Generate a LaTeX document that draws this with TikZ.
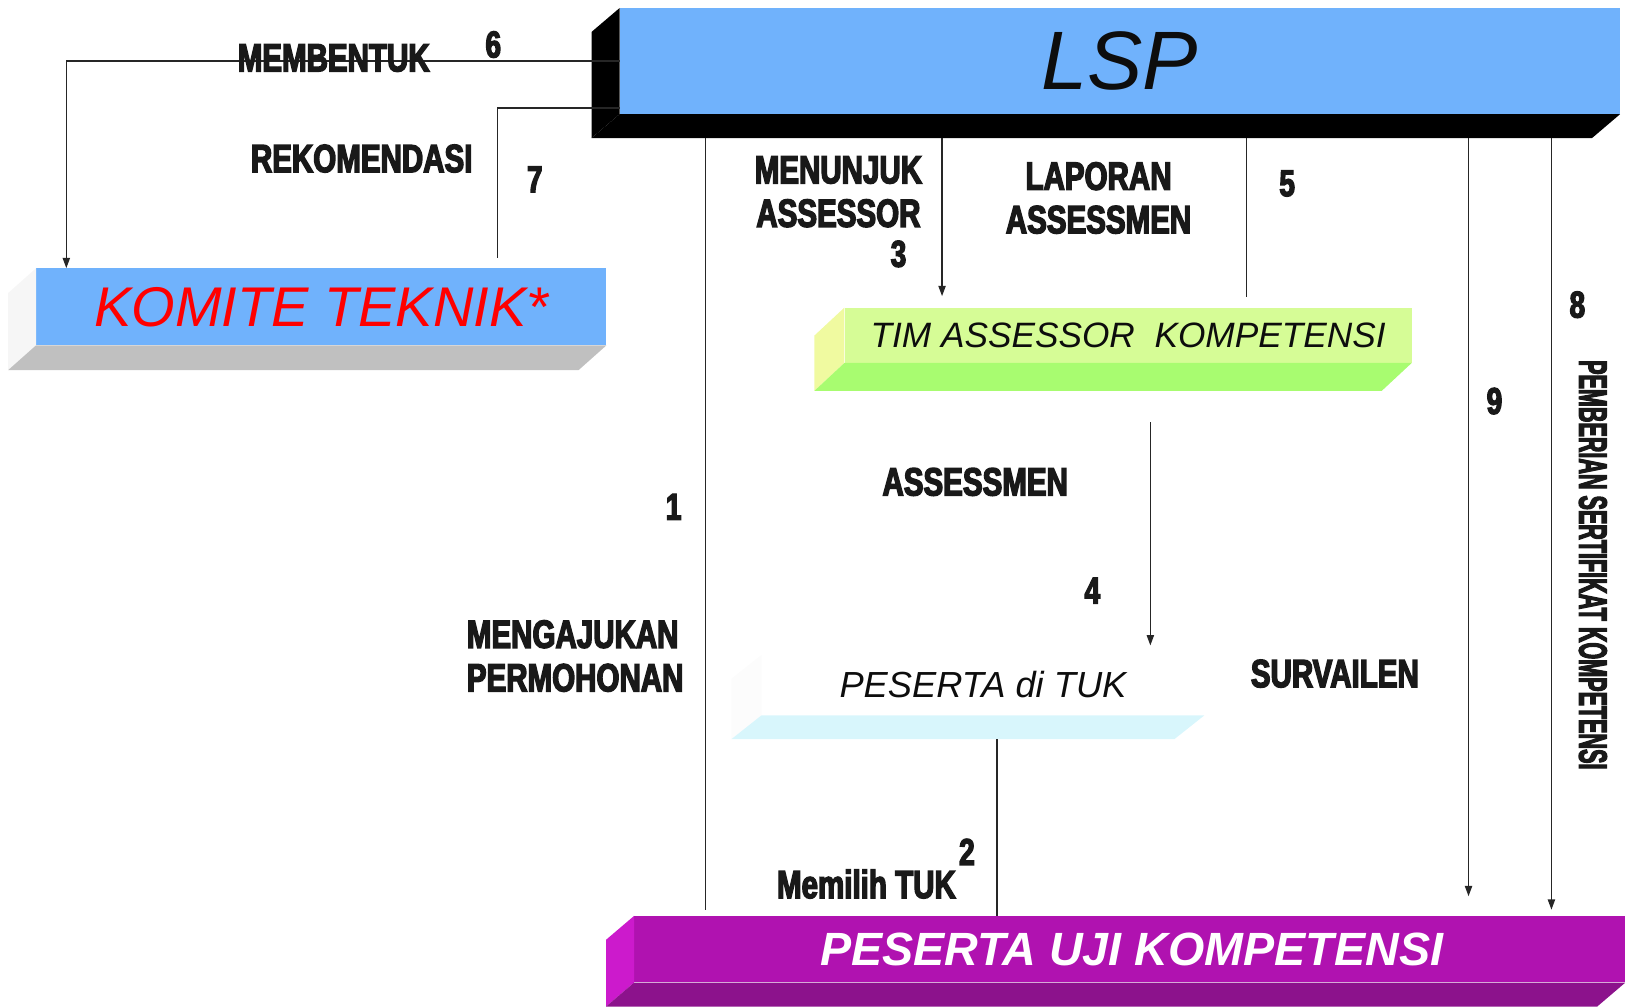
\documentclass[tikz,border=0pt]{standalone}
\usepackage{fontspec}
\usepackage{graphicx}
\setmainfont{Liberation Sans}
\newfontfamily\labfont{Liberation Sans Bold}[FakeStretch=0.75,FakeBold=3.5]
\usetikzlibrary{arrows.meta}

\definecolor{lspblue}{RGB}{112,178,252}
\definecolor{komside}{RGB}{246,246,246}
\definecolor{komdepth}{RGB}{192,192,192}
\definecolor{timface}{RGB}{214,252,150}
\definecolor{timside}{RGB}{240,250,160}
\definecolor{timdepth}{RGB}{168,252,112}
\definecolor{tukside}{RGB}{252,252,252}
\definecolor{tukdepth}{RGB}{216,246,252}
\definecolor{pesface}{RGB}{176,18,176}
\definecolor{pesside}{RGB}{204,26,204}
\definecolor{pesdepth}{RGB}{140,18,140}

\tikzset{
  face/.style={rectangle, inner sep=0pt, draw=none},
  lab/.style={font=\labfont\fontsize{38}{42}\selectfont, text=black!90, inner sep=0pt},
  num/.style={font=\labfont\fontsize{36}{40}\selectfont, text=black!90, inner sep=0pt},
  link/.style={draw=black!85, line width=1.4pt},
  arr/.style={link, -{Triangle[length=10pt,width=7pt]}}
}

\begin{document}
\begin{tikzpicture}[x=1pt,y=-1pt]
\useasboundingbox (0,0) rectangle (1568,971);

% front faces
\node[face, fill=lspblue, minimum width=965pt, minimum height=102pt, text=black!95,
  font=\itshape\fontsize{80}{82}\selectfont] (lsp) at (1080.5,59) {LSP};
\node[face, fill=lspblue, minimum width=550pt, minimum height=74pt, text=red,
  font=\itshape\fontsize{54}{56}\selectfont] (komite) at (310,296) {KOMITE TEKNIK*};
\node[face, fill=timface, minimum width=547pt, minimum height=53pt, text=black!95,
  font=\itshape\fontsize{34}{36}\selectfont] (tim) at (1088.5,323.5) {TIM ASSESSOR~~KOMPETENSI};
\node[face, fill=white, minimum width=427pt, minimum height=58pt, text=black!95,
  font=\itshape\fontsize{35}{36}\selectfont] (tuk) at (948.5,661) {PESERTA di TUK};
\node[face, fill=pesface, minimum width=956pt, minimum height=64pt, text=white,
  font=\bfseries\itshape\fontsize{45}{48}\selectfont] (peserta) at (1090,916) {\hspace*{4pt}PESERTA UJI KOMPETENSI};

% depth of the boxes
\foreach \n/\sd/\bt/\dx/\dy in {lsp/black/black/-27/23, komite/komside/komdepth/-27/24,
  tim/timside/timdepth/-29/27, tuk/tukside/tukdepth/-29/23, peserta/pesside/pesdepth/-27/23}
{
  \fill[\sd] (\n.north west) -- ++(\dx,\dy) -- ([shift={(\dx,\dy)}]\n.south west) -- (\n.south west) -- cycle;
  \fill[\bt] (\n.south west) -- (\n.south east) -- ++(\dx,\dy) -- ([shift={(\dx,\dy)}]\n.south west) -- cycle;
}

% connectors
\draw[arr] (lsp.west) -| (komite.north -| 64,0);
\draw[link, shorten >=10pt] (lsp.west |- 0,104) -| (komite.north -| 480,0);
\draw[link, shorten <=23pt, shorten >=6pt] (lsp.south -| 681,0) -- (peserta.north -| 681,0);
\draw[arr, shorten <=23pt, shorten >=11pt] (lsp.south -| 909,0) -- (tim.north -| 909,0);
\draw[link, shorten <=23pt, shorten >=10pt] (lsp.south -| 1203,0) -- (tim.north -| 1203,0);
\draw[arr, shorten <=57pt, shorten >=9pt] (tim.south -| 1110,0) -- (tuk.north -| 1110,0);
\draw[link, shorten <=23pt] (tuk.south -| 962,0) -- (peserta.north -| 962,0);
\draw[arr, shorten <=23pt, shorten >=19pt] (lsp.south -| 1417,0) -- (peserta.north -| 1417,0);
\draw[arr, shorten <=23pt, shorten >=6pt] (lsp.south -| 1497,0) -- (peserta.north -| 1497,0);

% labels
\node[lab] (membentuk) at (322,56) {MEMBENTUK};
\node[num] (n6) at (476,43) {6};
\node[lab] (rekomendasi) at (349,153) {REKOMENDASI};
\node[num] (n7) at (516,173) {7};
\node[lab, align=center] (menunjuk) at (809,185) {MENUNJUK\\ASSESSOR};
\node[num] (n3) at (867,245) {3};
\node[lab, align=center] (laporan) at (1060,191) {LAPORAN\\ASSESSMEN};
\node[num] (n5) at (1242,177) {5};
\node[lab] (assessmen) at (941,465) {ASSESSMEN};
\node[num] (n4) at (1054,570) {4};
\node[num] (n1) at (650,489) {1};
\node[lab, align=left] (mengajukan) at (555,633) {MENGAJUKAN\\PERMOHONAN};
\node[lab] (survailen) at (1288,650) {SURVAILEN};
\node[num] (n9) at (1442,387) {9};
\node[num] (n8) at (1522,294) {8};
\node[lab, rotate=-90] (pemberian) at (1537,545) {\scalebox{0.73}[1]{PEMBERIAN SERTIFIKAT KOMPETENSI}};
\node[num] (n2) at (933,822) {2};
\node[lab] (memilih) at (836,853) {Memilih TUK};
\end{tikzpicture}
\end{document}
